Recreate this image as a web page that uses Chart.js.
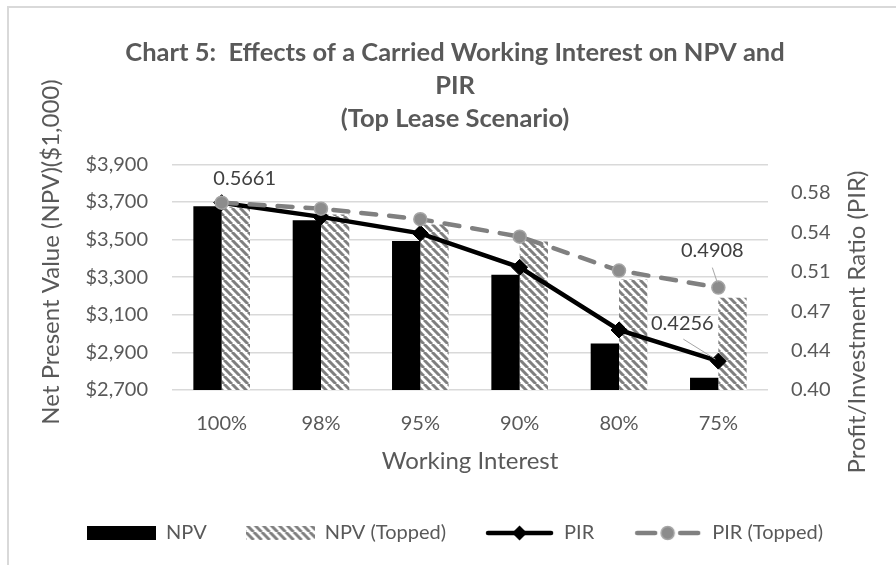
<!DOCTYPE html>
<html>
<head>
<meta charset="utf-8">
<script src="https://cdn.jsdelivr.net/npm/chart.js@4"></script>
<style>
  body { margin: 0; background: #fff; }
  #wrap { width: 896px; height: 565px; }
</style>
</head>
<body>
<div id="wrap"><canvas id="myChart"></canvas></div>
<script>
// chart values
const labels = ['100%', '98%', '95%', '90%', '80%', '75%'];
const npv = [3677, 3603, 3493, 3313, 2948, 2765];
const npvTopped = [3672, 3634, 3580, 3490, 3288, 3191];
const pir = [0.5661, 0.5535, 0.5389, 0.5088, 0.4532, 0.4256];
const pirTopped = [0.5661, 0.5608, 0.5515, 0.5360, 0.5059, 0.4908];
const npvTicks = [2700, 2900, 3100, 3300, 3500, 3700, 3900];
const pirTickValues = [0.40, 0.435, 0.47, 0.505, 0.54, 0.575];
const pirTickLabels = ['0.40', '0.44', '0.47', '0.51', '0.54', '0.58'];

const titleLines = ['Chart 5:  Effects of a Carried Working Interest on NPV and', 'PIR', '(Top Lease Scenario)'];
const xTitle = 'Working Interest';
const yTitle = 'Net Present Value (NPV)($1,000)';
const y1Title = 'Profit/Investment Ratio (PIR)';

const grey = '#595959';
const fam = 'Lato';

const ctx = document.getElementById('myChart').getContext('2d');

// wide downward diagonal hatch
function hatchTile() {
  const c = document.createElement('canvas');
  c.width = 8; c.height = 8;
  const g = c.getContext('2d');
  g.fillStyle = '#fff';
  g.fillRect(0, 0, 8, 8);
  g.strokeStyle = '#7f7f7f';
  g.lineWidth = 3;
  [-8, 0, 8].forEach(k => {
    g.beginPath(); g.moveTo(k, 0); g.lineTo(k + 8, 8); g.stroke();
  });
  return c;
}
const hatch = ctx.createPattern(hatchTile(), 'repeat');

// legend icons
function icon(kind) {
  const c = document.createElement('canvas');
  c.width = 69; c.height = 18;
  const g = c.getContext('2d');
  if (kind === 'bar') {
    g.fillStyle = '#000';
    g.fillRect(0, 2, 69, 14);
  } else if (kind === 'hatch') {
    g.fillStyle = g.createPattern(hatchTile(), 'repeat');
    g.fillRect(0, 2, 69, 14);
  } else if (kind === 'pir') {
    g.strokeStyle = '#000'; g.lineWidth = 4.5; g.lineCap = 'round';
    g.beginPath(); g.moveTo(3, 9); g.lineTo(66, 9); g.stroke();
    g.fillStyle = '#000';
    g.beginPath(); g.moveTo(34.5, 1.5); g.lineTo(42, 9); g.lineTo(34.5, 16.5); g.lineTo(27, 9); g.closePath(); g.fill();
  } else {
    g.strokeStyle = '#808080'; g.lineWidth = 4.5; g.lineCap = 'round';
    g.beginPath(); g.moveTo(4, 9); g.lineTo(22, 9); g.stroke();
    g.beginPath(); g.moveTo(47, 9); g.lineTo(65, 9); g.stroke();
    g.fillStyle = '#8c8c8c'; g.strokeStyle = '#a5a5a5'; g.lineWidth = 1.5;
    g.beginPath(); g.arc(34.5, 9, 6.5, 0, Math.PI * 2); g.fill(); g.stroke();
  }
  return c;
}
const icons = [icon('bar'), icon('hatch'), icon('pir'), icon('pirTopped')];

// value labels: dataset index, point index, offsets from the point
const valueLabels = [
  { ds: 3, i: 0, dx: 23, dy: -24 },
  { ds: 3, i: 5, dx: -6, dy: -37, lead: [-6, -20, -1, -5] },
  { ds: 2, i: 5, dx: -36, dy: -38, lead: [-35, -22, -3, -2] }
];

const frame = {
  id: 'frame',
  beforeDraw(chart) {
    const c = chart.ctx;
    c.save();
    c.fillStyle = '#fff';
    c.fillRect(0, 0, chart.width, chart.height);
    c.strokeStyle = '#d9d9d9';
    c.lineWidth = 2;
    c.beginPath();
    c.moveTo(8, chart.height + 5);
    c.lineTo(8, 7);
    c.lineTo(chart.width + 5, 7);
    c.stroke();
    c.restore();
  }
};

const extras = {
  id: 'extras',
  afterDatasetsDraw(chart) {
    const c = chart.ctx;
    c.save();
    c.font = '20px ' + fam;
    c.fillStyle = '#404040';
    c.textAlign = 'center';
    c.textBaseline = 'middle';
    valueLabels.forEach(l => {
      const pt = chart.getDatasetMeta(l.ds).data[l.i];
      const v = chart.data.datasets[l.ds].data[l.i];
      if (l.lead) {
        c.strokeStyle = '#a6a6a6';
        c.lineWidth = 1;
        c.beginPath();
        c.moveTo(pt.x + l.lead[0], pt.y + l.lead[1]);
        c.lineTo(pt.x + l.lead[2], pt.y + l.lead[3]);
        c.stroke();
      }
      c.fillText(v.toFixed(4), pt.x + l.dx, pt.y + l.dy);
    });
    c.restore();
  },
  afterDraw(chart) {
    const c = chart.ctx;
    const a = chart.chartArea;
    c.save();
    c.font = '24px ' + fam;
    c.fillStyle = grey;
    c.textAlign = 'center';
    c.textBaseline = 'middle';
    c.fillText(xTitle, (a.left + a.right) / 2, a.bottom + 71);
    c.save();
    c.translate(51, 252);
    c.rotate(-Math.PI / 2);
    c.fillText(yTitle, 0, 0);
    c.restore();
    c.translate(857, 322);
    c.rotate(-Math.PI / 2);
    c.fillText(y1Title, 0, 0);
    c.restore();
  }
};

const tickFont = { family: fam, size: 20 };

new Chart(ctx, {
  type: 'bar',
  data: {
    labels: labels,
    datasets: [
      {
        label: 'NPV',
        data: npv,
        backgroundColor: '#000',
        order: 2,
        categoryPercentage: 0.57,
        barPercentage: 1
      },
      {
        label: 'NPV (Topped)',
        data: npvTopped,
        backgroundColor: hatch,
        order: 3,
        categoryPercentage: 0.57,
        barPercentage: 1
      },
      {
        type: 'line',
        label: 'PIR',
        data: pir,
        yAxisID: 'y1',
        order: 1,
        borderColor: '#000',
        borderWidth: 4.5,
        pointStyle: 'rectRot',
        pointRadius: 8,
        pointBackgroundColor: '#000',
        pointBorderColor: '#000',
        pointBorderWidth: 1
      },
      {
        type: 'line',
        label: 'PIR (Topped)',
        data: pirTopped,
        yAxisID: 'y1',
        order: 0,
        borderColor: '#808080',
        borderWidth: 4.5,
        borderDash: [15, 13],
        borderCapStyle: 'round',
        pointStyle: 'circle',
        pointRadius: 6.5,
        pointBackgroundColor: '#8c8c8c',
        pointBorderColor: '#a5a5a5',
        pointBorderWidth: 1.5
      }
    ]
  },
  options: {
    responsive: true,
    maintainAspectRatio: false,
    animation: false,
    layout: { padding: { left: 14, right: 0, top: 0, bottom: 12 } },
    plugins: {
      tooltip: { enabled: false },
      title: {
        display: true,
        text: titleLines,
        color: grey,
        font: { family: fam, size: 25.5, weight: 'bold', lineHeight: 1.3 },
        padding: { top: 36, bottom: 29 }
      },
      legend: {
        position: 'bottom',
        labels: {
          usePointStyle: true,
          pointStyleWidth: 69,
          padding: 39,
          color: grey,
          font: { family: fam, size: 20 },
          generateLabels: chart => chart.data.datasets.map((ds, i) => ({
            text: ds.label,
            pointStyle: icons[i],
            datasetIndex: i,
            hidden: false,
            lineWidth: 0,
            fillStyle: 'transparent',
            strokeStyle: 'transparent',
            fontColor: grey
          }))
        }
      }
    },
    scales: {
      x: {
        offset: true,
        grid: { display: false, drawTicks: false },
        border: { display: false },
        ticks: { padding: 22, color: grey, font: tickFont },
        afterFit: s => { s.height = 94; }
      },
      y: {
        position: 'left',
        min: 2700,
        max: 3900,
        afterBuildTicks: s => { s.ticks = npvTicks.map(v => ({ value: v })); },
        grid: { color: '#d9d9d9', lineWidth: 1.5, drawTicks: false },
        border: { display: false },
        ticks: {
          padding: 24,
          color: grey,
          font: tickFont,
          callback: v => '$' + v.toLocaleString('en-US')
        },
        afterFit: s => { s.width = 158; }
      },
      y1: {
        position: 'right',
        min: 0.4,
        max: 0.6,
        afterBuildTicks: s => { s.ticks = pirTickValues.map(v => ({ value: v })); },
        grid: { display: false, drawTicks: false },
        border: { display: false },
        ticks: {
          padding: 23,
          color: grey,
          font: tickFont,
          callback: (v, i) => pirTickLabels[i]
        },
        afterFit: s => { s.width = 128; }
      }
    }
  },
  plugins: [frame, extras]
});
</script>
</body>
</html>
